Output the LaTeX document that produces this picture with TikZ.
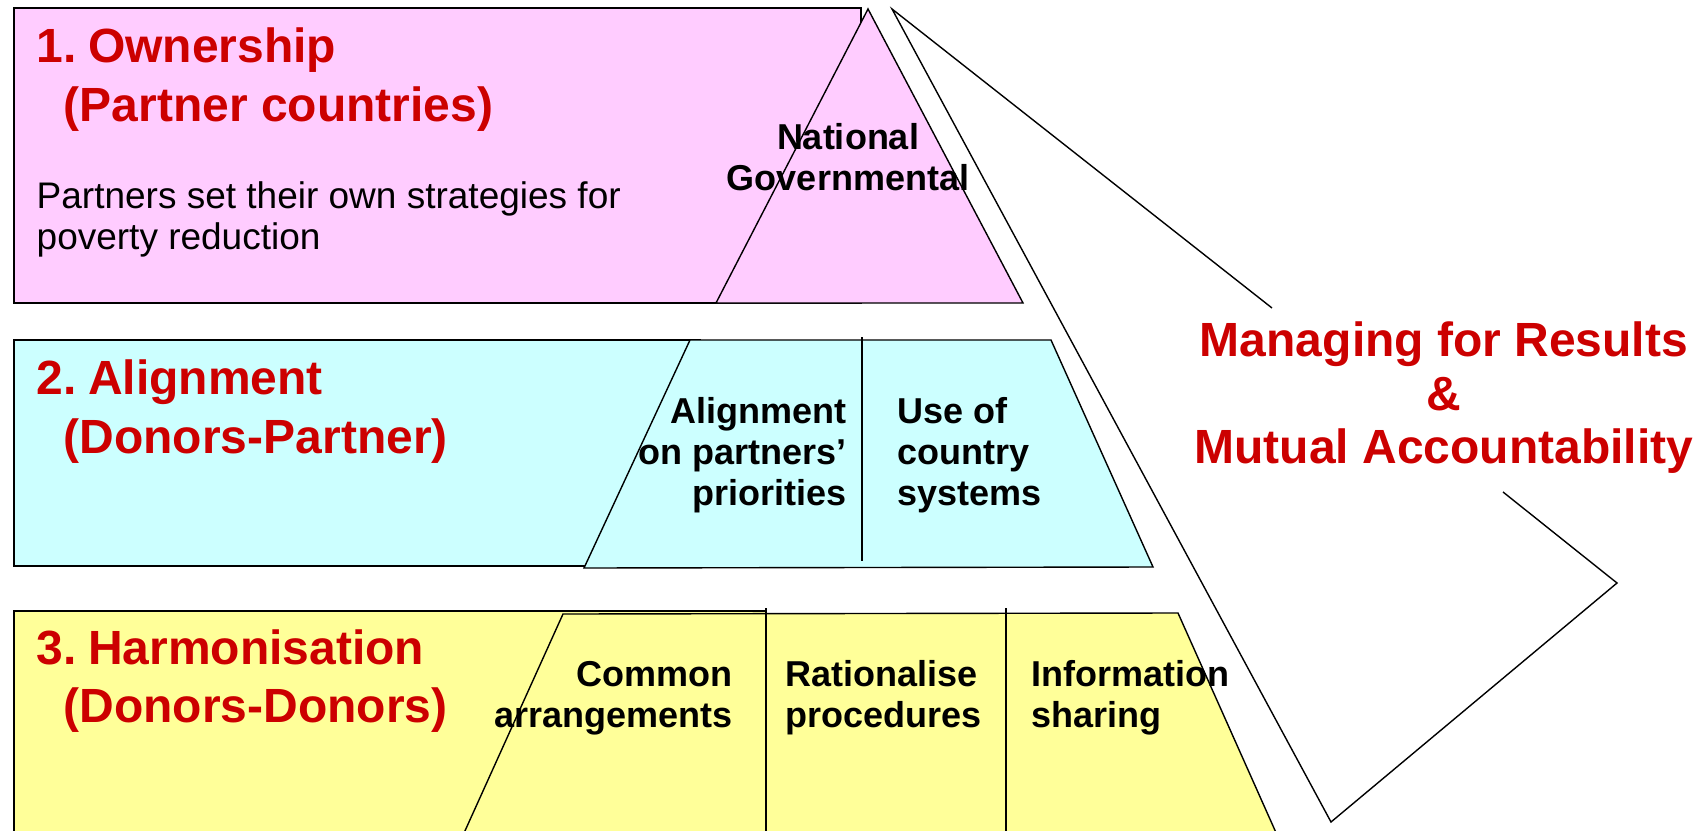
\documentclass[tikz,border=0pt]{standalone}
\usepackage{fontspec}
\setmainfont{Liberation Sans}
\definecolor{pinkc}{HTML}{FFCCFF}
\definecolor{cyanc}{HTML}{CCFFFF}
\definecolor{yelc}{HTML}{FFFF99}
\definecolor{hdred}{HTML}{CC0000}
\begin{document}
\begin{tikzpicture}[x=0.5pt,y=-0.5pt,line width=0.7pt,line join=miter,
  head/.style={font=\bfseries\fontsize{24}{29}\selectfont,text=hdred,inner sep=0pt},
  lab/.style={font=\bfseries\fontsize{18}{21}\selectfont,text=black,inner sep=0pt},
  body/.style={font=\fontsize{18.5}{21}\selectfont,text=black,inner sep=0pt,anchor=base west}]
\path[use as bounding box] (0,0) rectangle (1702,830);
\clip (0,0) rectangle (1702,830);
% tier 1
\draw[fill=pinkc] (14,8) rectangle (861,303);
\draw[fill=pinkc] (868,9) -- (1023,303) -- (716,303) -- cycle;
% pennant
\coordinate (pA) at (892,9);
\coordinate (pB) at (1617,583);
\coordinate (pC) at (1331,822);
\coordinate (g1) at (1272,308);
\coordinate (g2) at (1503,492);
\draw (g1) -- (pA) -- (pC) -- (pB) -- (g2);
% tier 2
\draw[fill=cyanc] (14,340) rectangle (700,566);
\draw[fill=cyanc] (690,340) -- (1051,340) -- (1153,567) -- (584,568) -- cycle;
\draw (862,337) -- (862,561);
% tier 3
\draw[fill=yelc] (14,611) rectangle (766,850);
\draw[fill=yelc] (563,614) -- (1178,613) -- (1290,864) -- (450,864) -- cycle;
\draw (766,608) -- (766,840);
\draw (1006,608) -- (1006,840);
% texts tier 1
\node[head,anchor=base west] (h1a) at (36,62) {1.\hspace{0.24em}Ownership};
\node[head,anchor=base west] (h1b) at (63,121) {(Partner countries)};
\node[body] (b1a) at (36,208) {Partners set their own strategies for};
\node[body] (b1b) at (36,249) {poverty reduction};
\node[lab,anchor=base] (n1) at (848,149) {National};
\node[lab,anchor=base] (n2) at (848,190) {Governmental};
% tier 2
\node[head,anchor=base west] (h2a) at (36,394) {2.\hspace{0.24em}Alignment};
\node[head,anchor=base west] (h2b) at (63,453) {(Donors-Partner)};
\node[lab,anchor=base east] (a1) at (847,423) {Alignment};
\node[lab,anchor=base east] (a2) at (847,464) {on partners’};
\node[lab,anchor=base east] (a3) at (847,505) {priorities};
\node[lab,anchor=base west] (u1) at (897,423) {Use of};
\node[lab,anchor=base west] (u2) at (897,464) {country};
\node[lab,anchor=base west] (u3) at (897,505) {systems};
% tier 3
\node[head,anchor=base west] (h3a) at (36,664) {3.\hspace{0.24em}Harmonisation};
\node[head,anchor=base west] (h3b) at (63,722) {(Donors-Donors)};
\node[lab,anchor=base east] (c1) at (733,686) {Common};
\node[lab,anchor=base east] (c2) at (733,727) {arrangements};
\node[lab,anchor=base west] (r1) at (785,686) {Rationalise};
\node[lab,anchor=base west] (r2) at (785,727) {procedures};
\node[lab,anchor=base west] (i1) at (1031,686) {Information};
\node[lab,anchor=base west] (i2) at (1031,727) {sharing};
% managing
\node[head,anchor=base] (m1) at (1444,356) {Managing for Results};
\node[head,anchor=base] (m2) at (1444,410) {\&};
\node[head,anchor=base] (m3) at (1444,463) {Mutual Accountability};
\end{tikzpicture}
\end{document}
